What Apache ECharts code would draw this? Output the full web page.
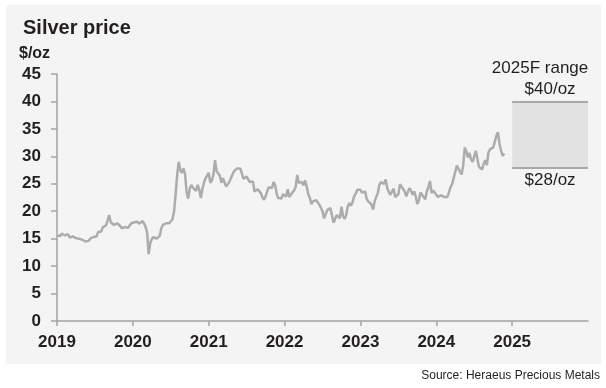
<!DOCTYPE html>
<html>
<head>
<meta charset="utf-8">
<script src="https://cdn.jsdelivr.net/npm/echarts@6/dist/echarts.min.js"></script>
<style>
html,body{margin:0;padding:0;background:#ffffff;}
#chart{width:606px;height:388px;}
</style>
</head>
<body>
<div id="chart"></div>
<script>
// Silver price, $/oz — four readings per month, Jan 2019 to Nov 2024
const startYear = 2019;
const prices = [
  // 2019
  15.6, 15.7, 15.5, 15.9,  15.8, 15.6, 15.9, 15.8,  15.2, 15.3, 15.4, 15.1,
  15.1, 15.0, 15.0, 14.9,  14.8, 14.7, 14.5, 14.5,  14.6, 15.0, 15.3, 15.3,
  15.1, 15.4, 16.2, 16.4,  16.3, 17.1, 17.2, 17.4,  18.3, 19.3, 18.0, 17.8,
  17.5, 17.6, 17.8, 18.0,  17.3, 16.9, 16.9, 17.1,  17.0, 17.0, 17.2, 17.8,
  // 2020
  17.9, 18.0, 17.9, 18.1,  17.7, 17.5, 18.2, 17.8,  17.2, 16.2, 12.2, 14.2,
  14.9, 15.3, 15.1, 15.0,  15.1, 15.5, 16.9, 17.5,  17.6, 17.8, 17.6, 17.8,
  18.1, 18.5, 19.8, 22.8,  26.5, 29.0, 27.5, 27.0,  27.8, 26.8, 23.5, 22.3,
  24.1, 24.8, 24.3, 24.0,  23.7, 24.8, 24.0, 22.4,  24.0, 25.2, 26.0, 26.3,
  // 2021
  27.0, 25.2, 25.6, 26.7,  29.3, 27.3, 27.5, 26.5,  25.2, 26.0, 25.8, 24.5,
  24.8, 25.3, 26.0, 26.2,  27.3, 27.6, 27.8, 27.9,  27.8, 27.7, 25.9, 26.0,
  26.3, 26.1, 25.3, 25.5,  25.4, 23.6, 23.4, 24.0,  24.2, 23.3, 22.5, 22.1,
  22.7, 23.6, 24.4, 24.2,  24.2, 25.3, 24.8, 23.2,  22.4, 22.1, 22.3, 23.1,
  // 2022
  23.0, 22.7, 24.0, 22.6,  22.4, 23.4, 23.8, 24.4,  26.6, 25.2, 25.0, 25.3,
  24.7, 25.6, 24.5, 23.1,  22.4, 21.3, 21.8, 22.0,  22.0, 21.6, 21.2, 21.0,
  20.0, 18.7, 18.8, 20.2,  20.1, 20.6, 19.2, 17.9,  18.2, 19.3, 19.2, 18.7,
  20.8, 19.1, 18.6, 19.3,  20.9, 21.5, 21.0, 21.6,  22.7, 23.2, 23.9, 23.7,
  // 2023
  23.9, 23.4, 23.7, 23.6,  22.2, 21.8, 21.8, 21.2,  20.3, 21.8, 22.6, 23.3,
  24.8, 25.3, 25.0, 25.0,  25.8, 24.2, 23.5, 23.0,  23.6, 24.1, 22.6, 22.8,
  23.1, 24.9, 24.5, 24.3,  23.6, 22.7, 23.0, 24.2,  23.8, 23.0, 23.6, 22.7,
  21.3, 22.0, 23.4, 23.3,  22.6, 22.2, 23.6, 24.4,  25.5, 23.3, 23.8, 24.1,
  // 2024
  23.0, 22.6, 22.8, 22.9,  22.7, 22.6, 22.7, 22.6,  23.4, 24.4, 24.9, 24.8,
  27.2, 28.3, 28.6, 27.2,  26.7, 28.3, 31.6, 30.9,  29.8, 30.6, 29.4, 29.0,
  29.3, 31.0, 30.8, 28.1,  28.2, 27.6, 28.7, 29.3,  28.4, 30.7, 31.3, 31.4,
  31.6, 31.5, 33.7, 34.4,  32.3, 31.0, 30.1, 30.5
];
const yearTicks = ['2019', '2020', '2021', '2022', '2023', '2024', '2025'];
const forecastYear = [2025, 2026];
const forecastLow = 28;
const forecastHigh = 40;
const forecastTitle = '2025F range';

const FONT = "'Liberation Sans', Arial, sans-serif";
const TXT = '#231f20';
const AX = '#a3a3a3';

const seriesData = prices.map((v, i) => [startYear + i / 48, v]);

const chart = echarts.init(document.getElementById('chart'), null, {renderer: 'canvas'});
chart.setOption({
  backgroundColor: '#ffffff',
  animation: false,
  graphic: [
    {type: 'rect', z: -10, shape: {x: 6, y: 5, width: 595, height: 359}, style: {fill: '#f4f4f4'}},
    {type: 'text', left: 19, top: 46, style: {text: '$/oz', font: 'bold 16px ' + FONT, fill: TXT}},
    {type: 'text', right: 6, top: 370, style: {text: 'Source: Heraeus Precious Metals', font: '12px ' + FONT, fill: TXT}}
  ],
  title: {
    text: 'Silver price', left: 18, top: 13,
    textStyle: {fontFamily: FONT, fontWeight: 'bold', fontSize: 20, color: TXT}
  },
  grid: {left: 57, right: 18, top: 74, bottom: 67, containLabel: false},
  xAxis: {
    type: 'value', min: 2019, max: 2026, interval: 1,
    axisLine: {show: true, lineStyle: {color: AX, width: 1.5}},
    axisTick: {show: true, length: 5, lineStyle: {color: AX, width: 1.5},
               customValues: yearTicks.map(Number)},
    axisLabel: {
      margin: 13, color: TXT, fontFamily: FONT, fontWeight: 'bold', fontSize: 17,
      customValues: yearTicks.map(Number),
      formatter: v => yearTicks.includes(String(v)) ? String(v) : ''
    },
    splitLine: {show: false}
  },
  yAxis: {
    type: 'value', min: 0, max: 45, interval: 5,
    axisLine: {show: true, lineStyle: {color: AX, width: 1.5}},
    axisTick: {show: true, length: 6, lineStyle: {color: AX, width: 1.5}},
    axisLabel: {margin: 16, color: TXT, fontFamily: FONT, fontWeight: 'bold', fontSize: 17},
    splitLine: {show: false}
  },
  series: [
    {
      type: 'line', data: seriesData, showSymbol: false, symbol: 'none',
      lineStyle: {color: '#acacac', width: 2.5}, z: 3,
      markArea: {
        silent: true,
        itemStyle: {color: '#e2e2e2'},
        label: {
          show: true, position: 'top', distance: 25, offset: [-10, 0],
          formatter: forecastTitle, color: TXT, fontFamily: FONT, fontSize: 17
        },
        data: [[{coord: [forecastYear[0], forecastLow]}, {coord: [forecastYear[1], forecastHigh]}]]
      },
      markLine: {
        silent: true, symbol: 'none',
        lineStyle: {color: '#a8a8a8', width: 2, type: 'solid'},
        data: [
          [{coord: [forecastYear[0], forecastHigh],
            label: {show: true, position: 'insideMiddleTop', distance: 4,
                    formatter: '$' + forecastHigh + '/oz', color: TXT, fontFamily: FONT, fontSize: 17}},
           {coord: [forecastYear[1], forecastHigh]}],
          [{coord: [forecastYear[0], forecastLow],
            label: {show: true, position: 'insideMiddleBottom', distance: 5,
                    formatter: '$' + forecastLow + '/oz', color: TXT, fontFamily: FONT, fontSize: 17}},
           {coord: [forecastYear[1], forecastLow]}]
        ]
      }
    }
  ]
});
</script>
</body>
</html>
